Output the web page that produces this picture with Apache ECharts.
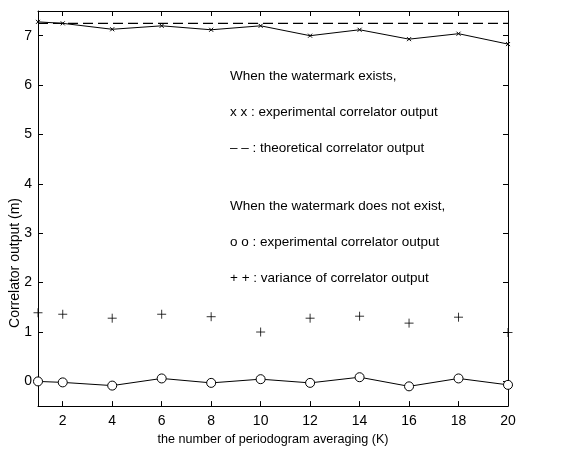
<!DOCTYPE html>
<html>
<head>
<meta charset="utf-8">
<script src="https://cdn.jsdelivr.net/npm/echarts@6/dist/echarts.min.js"></script>
<style>html,body{margin:0;padding:0;background:#fff;}#c{width:568px;height:451px;}</style>
</head>
<body>
<div id="c"></div>
<script>
var kValues = [1, 2, 4, 6, 8, 10, 12, 14, 16, 18, 20];
var expWithWatermark = [7.28, 7.25, 7.13, 7.20, 7.12, 7.20, 7.00, 7.12, 6.93, 7.04, 6.83];
var theoretical = 7.25;
var expWithoutWatermark = [0.00, -0.02, -0.085, 0.06, -0.03, 0.045, -0.03, 0.085, -0.10, 0.06, -0.07];
var varianceOutput = [1.39, 1.36, 1.28, 1.36, 1.31, 1.00, 1.28, 1.32, 1.18, 1.30, 0.99];
var xTicks = [2, 4, 6, 8, 10, 12, 14, 16, 18, 20];
var yTicks = [0, 1, 2, 3, 4, 5, 6, 7];
var annotations = [
  'When the watermark exists,',
  'x x : experimental correlator output',
  '\u2013 \u2013 : theoretical correlator output',
  'When the watermark does not exist,',
  'o o : experimental correlator output',
  '+ + : variance of correlator output'
];

function pairs(xs, ys) { return xs.map(function (x, i) { return [x, ys[i]]; }); }

var font = '"Liberation Sans", Arial, sans-serif';
var chart = echarts.init(document.getElementById('c'));

function xAx(pos, show) {
  return {
    type: 'value', position: pos, min: 1, max: 20,
    axisLine: { show: true, onZero: false, lineStyle: { color: '#000', width: 1 } },
    axisTick: { show: true, inside: true, length: 5, customValues: xTicks, lineStyle: { color: '#000' } },
    axisLabel: { show: show, customValues: xTicks, color: '#000', fontSize: 14, fontFamily: font, margin: 8 },
    splitLine: { show: false },
    name: show ? 'the number of periodogram averaging (K)' : '',
    nameLocation: 'middle', nameGap: 20,
    nameTextStyle: { color: '#000', fontSize: 12.6, fontFamily: font }
  };
}
function yAx(pos, show) {
  return {
    type: 'value', position: pos, min: -0.5, max: 7.5,
    axisLine: { show: true, onZero: false, lineStyle: { color: '#000', width: 1 } },
    axisTick: { show: true, inside: true, length: 5, customValues: yTicks, lineStyle: { color: '#000' } },
    axisLabel: { show: show, customValues: yTicks, color: '#000', fontSize: 14, fontFamily: font, margin: 6 },
    splitLine: { show: false }
  };
}

var ys = [76, 112, 148, 206, 242, 278];
var graphics = annotations.map(function (t, i) {
  return {
    type: 'text', x: 230, y: ys[i],
    style: { text: t, fill: '#000', font: '13.5px ' + font, verticalAlign: 'middle', align: 'left' }
  };
});
graphics.push({
  type: 'text', x: 15, y: 263, rotation: Math.PI / 2,
  style: { text: 'Correlator output (m)', fill: '#000', font: '14px ' + font, verticalAlign: 'middle', align: 'center' }
});

chart.setOption({
  animation: false,
  backgroundColor: '#fff',
  grid: { left: 38, right: 60, top: 11, bottom: 38 },
  xAxis: [xAx('bottom', true), xAx('top', false)],
  yAxis: [yAx('left', true), yAx('right', false)],
  series: [
    {
      type: 'line', data: pairs(kValues, expWithWatermark),
      symbol: 'path://M0,0L10,10M10,0L0,10', symbolSize: 4,
      itemStyle: { color: 'none', borderColor: '#000', borderWidth: 1 },
      lineStyle: { color: '#000', width: 1 }
    },
    {
      type: 'line', data: [[1, theoretical], [20, theoretical]],
      symbol: 'none',
      lineStyle: { color: '#000', width: 1.3, type: [10, 5] }
    },
    {
      type: 'line', data: pairs(kValues, expWithoutWatermark),
      symbol: 'circle', symbolSize: 9,
      itemStyle: { color: '#fff', borderColor: '#000', borderWidth: 1 },
      lineStyle: { color: '#000', width: 1 }
    },
    {
      type: 'scatter', data: pairs(kValues, varianceOutput),
      symbol: 'path://M5,0L5,10M0,5L10,5', symbolSize: 9,
      itemStyle: { color: 'none', borderColor: '#000', borderWidth: 1 }
    }
  ],
  graphic: graphics
});
</script>
</body>
</html>
